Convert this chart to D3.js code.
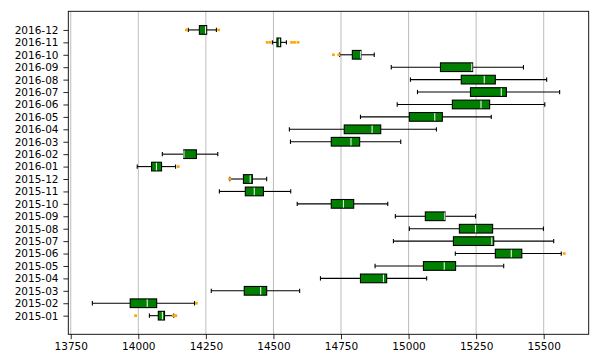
<html>
<head>
    <title>Monthly box plot</title>
    <script type="text/javascript" src="https://cdn.jsdelivr.net/npm/d3@7/dist/d3.min.js"></script>
    <style>
        body { margin: 0; background: #fff; }
        text { font-family: "DejaVu Sans", sans-serif; }
    </style>
</head>
<body>

<div id="chart"></div>

<script type="text/javascript">

    // one box per month, bottom to top
    var months = ["2015-01", "2015-02", "2015-03", "2015-04", "2015-05", "2015-06",
                  "2015-07", "2015-08", "2015-09", "2015-10", "2015-11", "2015-12",
                  "2016-01", "2016-02", "2016-03", "2016-04", "2016-05", "2016-06",
                  "2016-07", "2016-08", "2016-09", "2016-10", "2016-11", "2016-12"];

    var whiskerLow  = [14041, 13830, 14270, 14674, 14876, 15173, 14944, 15003, 14951, 14588, 14300, 14339,
                       13996, 14089, 14563, 14559, 14822, 14958, 15033, 15007, 14936, 14745, 14496, 14185];
    var q1          = [14074, 13970, 14392, 14822, 15055, 15321, 15166, 15188, 15062, 14714, 14396, 14389,
                       14049, 14168, 14714, 14762, 15003, 15162, 15229, 15195, 15118, 14792, 14513, 14226];
    var medians     = [14089, 14033, 14453, 14907, 15132, 15380, 15308, 15248, 15134, 14759, 14429, 14414,
                       14067, 14169, 14787, 14865, 15097, 15268, 15343, 15280, 15234, 14823, 14522, 14249];
    var q3          = [14097, 14068, 14475, 14919, 15174, 15419, 15315, 15311, 15135, 14797, 14463, 14422,
                       14086, 14215, 14819, 14897, 15125, 15300, 15362, 15321, 15237, 14824, 14527, 14253];
    var whiskerHigh = [14131, 14208, 14597, 15067, 15352, 15565, 15537, 15499, 15248, 14923, 14564, 14475,
                       14138, 14294, 14971, 15103, 15306, 15504, 15559, 15511, 15425, 14873, 14548, 14289];
    var outliers    = [[13990, 14129, 14139], [14215], [], [], [], [15576],
                       [], [], [], [], [], [14338],
                       [14148], [], [], [], [], [],
                       [], [], [], [14722, 14742], [14477, 14487, 14567, 14578, 14591], [14178, 14297]];

    var xTicks = [13750, 14000, 14250, 14500, 14750, 15000, 15250, 15500];

    var WIDTH = 600, HEIGHT = 363;
    var LEFT = 68.3, RIGHT = 588.7, TOP = 11.3, BOTTOM = 334.3;
    var BOX_H = 0.7;   // box height in position units
    var CAP_H = 0.35;

    var svg = d3.select("#chart").append("svg")
        .attr("width", WIDTH)
        .attr("height", HEIGHT);

    var x = d3.scaleLinear().domain([13741, 15666.5]).range([LEFT, RIGHT]);
    var y = d3.scaleLinear().domain([-0.5, 25.5]).range([BOTTOM, TOP]);
    var unit = Math.abs(y(1) - y(0));

    // vertical grid lines
    svg.append("g").selectAll("line")
        .data(xTicks)
        .enter().append("line")
        .attr("x1", function (d) { return x(d); })
        .attr("x2", function (d) { return x(d); })
        .attr("y1", TOP)
        .attr("y2", BOTTOM)
        .attr("stroke", "#b0b0b0")
        .attr("stroke-width", 0.85);

    var rows = months.map(function (m, i) {
        return {
            month: m, pos: i + 1,
            lo: whiskerLow[i], q1: q1[i], med: medians[i], q3: q3[i], hi: whiskerHigh[i],
            out: outliers[i]
        };
    });

    var box = svg.append("g").selectAll("g")
        .data(rows)
        .enter().append("g");

    // whiskers
    box.append("line")
        .attr("x1", function (d) { return x(d.lo); })
        .attr("x2", function (d) { return x(d.q1); })
        .attr("y1", function (d) { return y(d.pos); })
        .attr("y2", function (d) { return y(d.pos); })
        .attr("stroke", "black").attr("stroke-width", 1.1);
    box.append("line")
        .attr("x1", function (d) { return x(d.q3); })
        .attr("x2", function (d) { return x(d.hi); })
        .attr("y1", function (d) { return y(d.pos); })
        .attr("y2", function (d) { return y(d.pos); })
        .attr("stroke", "black").attr("stroke-width", 1.1);

    // caps
    ["lo", "hi"].forEach(function (k) {
        box.append("line")
            .attr("x1", function (d) { return x(d[k]); })
            .attr("x2", function (d) { return x(d[k]); })
            .attr("y1", function (d) { return y(d.pos) - CAP_H * unit / 2; })
            .attr("y2", function (d) { return y(d.pos) + CAP_H * unit / 2; })
            .attr("stroke", "black").attr("stroke-width", 1.1);
    });

    // boxes
    box.append("rect")
        .attr("x", function (d) { return x(d.q1); })
        .attr("width", function (d) { return x(d.q3) - x(d.q1); })
        .attr("y", function (d) { return y(d.pos) - BOX_H * unit / 2; })
        .attr("height", BOX_H * unit)
        .attr("fill", "#008000")
        .attr("stroke", "black")
        .attr("stroke-width", 1.1);

    // medians
    box.append("line")
        .attr("x1", function (d) { return x(d.med); })
        .attr("x2", function (d) { return x(d.med); })
        .attr("y1", function (d) { return y(d.pos) - BOX_H * unit / 2 + 0.6; })
        .attr("y2", function (d) { return y(d.pos) + BOX_H * unit / 2 - 0.6; })
        .attr("stroke", "white").attr("stroke-width", 1);

    // outliers
    box.selectAll("rect.flier")
        .data(function (d) { return d.out.map(function (v) { return {v: v, pos: d.pos}; }); })
        .enter().append("rect")
        .attr("class", "flier")
        .attr("x", function (d) { return x(d.v) - 1.4; })
        .attr("y", function (d) { return y(d.pos) - 1.3; })
        .attr("width", 2.8)
        .attr("height", 2.6)
        .attr("fill", "orange");

    // axes
    var xAxis = d3.axisBottom(x).tickValues(xTicks).tickSize(4.9).tickPadding(3.6)
        .tickFormat(d3.format("d"));
    var gx = svg.append("g").attr("transform", "translate(0," + BOTTOM + ")").call(xAxis);

    var yAxis = d3.axisLeft(y).tickValues(rows.map(function (d) { return d.pos; })).tickSize(4.9).tickPadding(4.9)
        .tickFormat(function (p) { return months[p - 1]; });
    var gy = svg.append("g").attr("transform", "translate(" + LEFT + ",0)").call(yAxis);

    [gx, gy].forEach(function (g) {
        g.select(".domain").remove();
        g.selectAll(".tick line").attr("stroke", "black").attr("stroke-width", 0.85);
        g.selectAll(".tick text").attr("font-size", 10.5).attr("fill", "black")
            .attr("font-family", "DejaVu Sans");
    });

    // frame
    svg.append("rect")
        .attr("x", LEFT).attr("y", TOP)
        .attr("width", RIGHT - LEFT).attr("height", BOTTOM - TOP)
        .attr("fill", "none")
        .attr("stroke", "black")
        .attr("stroke-width", 0.9);

</script>

</body>
</html>
